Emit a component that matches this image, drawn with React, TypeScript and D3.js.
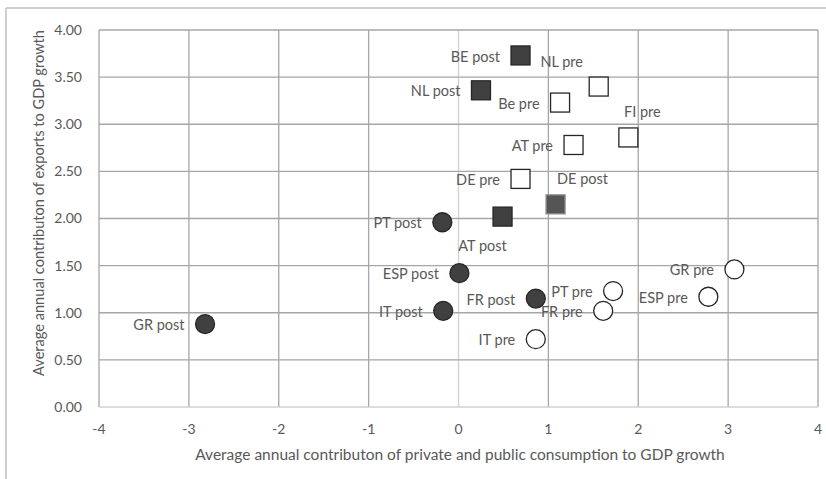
import React from "react";
import * as d3 from "d3";

const names = ["BE post","NL post","AT post","DE post","NL pre","Be pre","FI pre","AT pre","DE pre","PT post","ESP post","IT post","FR post","GR post","IT pre","PT pre","FR pre","GR pre","ESP pre"];
const xVals = [0.69,0.25,0.49,1.08,1.56,1.13,1.89,1.28,0.69,-0.18,0.01,-0.17,0.86,-2.82,0.86,1.72,1.61,3.07,2.78];
const yVals = [3.73,3.36,2.02,2.15,3.40,3.23,2.86,2.78,2.42,1.96,1.42,1.02,1.15,0.88,0.72,1.23,1.02,1.46,1.17];
const shapes = ["sqF","sqF","sqF","sqG","sqO","sqO","sqO","sqO","sqO","ciF","ciF","ciF","ciF","ciF","ciO","ciO","ciO","ciO","ciO"];
const xTicks = [-4,-3,-2,-1,0,1,2,3,4];
const yTicks = [0,0.5,1,1.5,2,2.5,3,3.5,4];

// label placement: [dx, dy, anchor]
const labelPlace: Record<string, [number, number, string]> = {
  "NL pre": [-37, -25, "middle"],
  "FI pre": [14, -26, "middle"],
  "DE post": [27, -25, "middle"],
  "AT post": [-20, 29, "middle"],
};

export default function App() {
  const W = 826, H = 479;
  const x = d3.scaleLinear().domain([-4, 4]).range([99, 818]);
  const y = d3.scaleLinear().domain([0, 4]).range([407, 30]);
  const font = "Lato, 'Open Sans', sans-serif";
  const txt = "#595959";
  const grid = "#a6a6a6";
  const r = 9.5;
  return (
    <svg width={W} height={H} style={{ position: "absolute", left: 0, top: 0 }}>
      <rect x={0} y={0} width={W} height={H} fill="#fff" />
      <line x1={6} x2={826} y1={8} y2={8} stroke="#bfbfbf" strokeWidth={1.5} />
      <line x1={6} x2={6} y1={8} y2={479} stroke="#bfbfbf" strokeWidth={1.5} />
      {xTicks.map((t) => (
        <line key={"gx" + t} x1={x(t)} x2={x(t)} y1={y(4)} y2={y(0)} stroke={t === 0 ? "#d0d0d0" : grid} strokeWidth={1.3} />
      ))}
      {yTicks.map((t) => (
        <line key={"gy" + t} x1={x(-4)} x2={x(4)} y1={y(t)} y2={y(t)} stroke={t === 0 ? "#d0d0d0" : grid} strokeWidth={1.3} />
      ))}
      {yTicks.map((t) => (
        <text key={"ty" + t} x={82} y={y(t)} dy="0.35em" textAnchor="end" fontFamily={font} fontSize={14} fill={txt}>
          {d3.format(".2f")(t)}
        </text>
      ))}
      {xTicks.map((t) => (
        <text key={"tx" + t} x={x(t)} y={429} dy="0.35em" textAnchor="middle" fontFamily={font} fontSize={14} fill={txt}>
          {t}
        </text>
      ))}
      <text x={460} y={455} dy="0.35em" textAnchor="middle" fontFamily={font} fontSize={15.5} fill={txt}>
        Average annual contributon of private and public consumption to GDP growth
      </text>
      <text transform={`translate(39,203) rotate(-90)`} dy="0.35em" textAnchor="middle" fontFamily={font} fontSize={14.6} fill={txt}>
        Average annual contributon of exports to GDP growth
      </text>
      {names.map((n, i) => {
        const cx = x(xVals[i]), cy = y(yVals[i]);
        const s = shapes[i];
        let mark;
        if (s.startsWith("sq")) {
          const fill = s === "sqF" ? "#404040" : s === "sqG" ? "#555555" : "#fff";
          const stroke = s === "sqG" ? "#8c8c8c" : "#262626";
          mark = <rect x={cx - r} y={cy - r} width={2 * r} height={2 * r} fill={fill} stroke={stroke} strokeWidth={1.3} />;
        } else {
          const fill = s === "ciF" ? "#404040" : "#fff";
          mark = <circle cx={cx} cy={cy} r={r} fill={fill} stroke="#262626" strokeWidth={1.3} />;
        }
        return <g key={"m" + n}>{mark}</g>;
      })}
      {names.map((n, i) => {
        const cx = x(xVals[i]), cy = y(yVals[i]);
        const p = labelPlace[n];
        const lx = p ? cx + p[0] : cx - r - 11;
        const ly = p ? cy + p[1] : cy + 1;
        const anchor = p ? p[2] : "end";
        return (
          <text key={"l" + n} x={lx} y={ly} dy="0.35em" textAnchor={anchor} fontFamily={font} fontSize={14.5} fill={txt}>
            {n}
          </text>
        );
      })}
    </svg>
  );
}
